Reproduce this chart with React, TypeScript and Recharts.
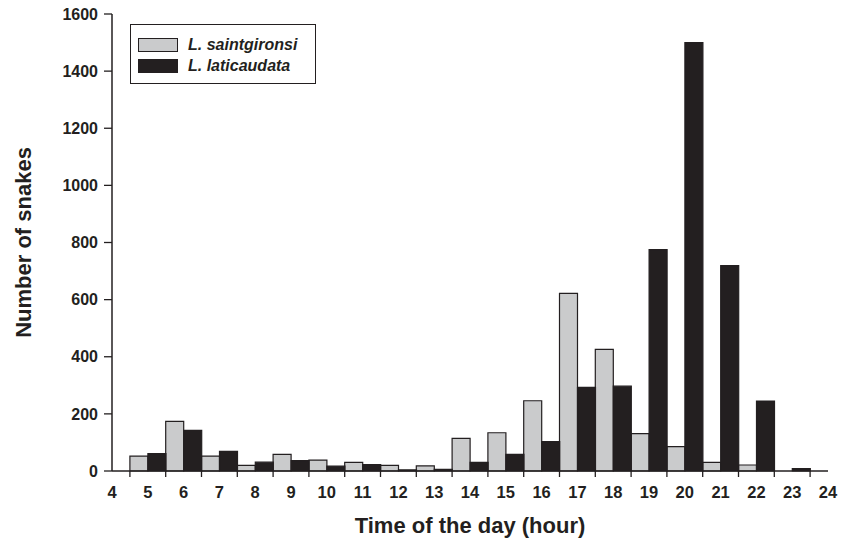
import React from 'react';
import { BarChart, Bar, XAxis, YAxis } from 'recharts';

// Hours of the day (categories) and counts per species
const hours = [5, 6, 7, 8, 9, 10, 11, 12, 13, 14, 15, 16, 17, 18, 19, 20, 21, 22, 23];
const saintgironsi = [52, 174, 52, 20, 58, 38, 30, 20, 18, 114, 134, 246, 622, 426, 131, 85, 30, 21, 0];
const laticaudata = [61, 142, 69, 31, 36, 17, 22, 4, 6, 30, 58, 103, 293, 297, 775, 1500, 719, 245, 8];
const yTicks = [0, 200, 400, 600, 800, 1000, 1200, 1400, 1600];

const data = hours.map((h, i) => ({
  hour: h,
  saintgironsi: saintgironsi[i],
  laticaudata: laticaudata[i],
}));

const FONT = 'Arial, "Liberation Sans", Helvetica, sans-serif';
const INK = '#231f20';
const GREY = '#cacbcc';
const HALF_BAND = 17.9;

// x tick: label at the hour, tick marks on the hour boundaries
// eslint-disable-next-line @typescript-eslint/no-explicit-any
const HourTick = (props: any) => {
  const { x, y, payload, index } = props;
  const last = index === hours.length - 1;
  const label = (v: number, px: number) => (
    <text x={px} y={y + 27} textAnchor="middle" fontFamily={FONT} fontWeight="bold" fontSize={16.5} fill={INK}>
      {v}
    </text>
  );
  return (
    <g>
      <line x1={x - HALF_BAND} y1={y} x2={x - HALF_BAND} y2={y + 6} stroke={INK} strokeWidth={1.3} />
      {last && <line x1={x + HALF_BAND} y1={y} x2={x + HALF_BAND} y2={y + 6} stroke={INK} strokeWidth={1.3} />}
      {index === 0 && label(payload.value - 1, x - 2 * HALF_BAND)}
      {label(payload.value, x)}
      {last && label(payload.value + 1, x + 2 * HALF_BAND)}
    </g>
  );
};

const series = [
  { name: 'L. saintgironsi', color: GREY },
  { name: 'L. laticaudata', color: INK },
];

const LegendBox = () => (
  <div
    style={{
      position: 'absolute',
      left: 130,
      top: 24,
      border: `1.3px solid ${INK}`,
      width: 186,
      height: 60,
      boxSizing: 'border-box',
      padding: '9px 0 0 7px',
      fontFamily: FONT,
      fontWeight: 'bold',
      fontStyle: 'italic',
      fontSize: 16,
      color: INK,
      background: '#fff',
    }}
  >
    {series.map((s) => (
      <div key={s.name} style={{ display: 'flex', alignItems: 'center', height: 21 }}>
        <span
          style={{
            display: 'inline-block',
            width: 38,
            height: 12,
            background: s.color,
            border: `1px solid ${INK}`,
            marginRight: 10,
          }}
        />
        {s.name}
      </div>
    ))}
  </div>
);

export default function App() {
  return (
    <div style={{ position: 'absolute', left: 0, top: 0, width: 841, height: 542, background: '#fff' }}>
      <BarChart
        width={841}
        height={542}
        data={data}
        margin={{ top: 14, right: 13, left: 0, bottom: 41 }}
        barCategoryGap={0}
        barGap={0}
      >
        <XAxis
          dataKey="hour"
          type="category"
          height={30}
          padding={{ left: HALF_BAND, right: HALF_BAND }}
          axisLine={{ stroke: INK, strokeWidth: 1.5 }}
          tickLine={false}
          tickSize={0}
          tickMargin={0}
          interval={0}
          tick={<HourTick />}
          label={{
            // eslint-disable-next-line @typescript-eslint/no-explicit-any
            content: (p: any) => (
              <text
                x={p.viewBox.x + p.viewBox.width / 2}
                y={533}
                textAnchor="middle"
                fontFamily={FONT}
                fontWeight="bold"
                fontSize={22}
                fill={INK}
              >
                Time of the day (hour)
              </text>
            ),
          }}
        />
        <YAxis
          width={112}
          domain={[0, 1600]}
          ticks={yTicks}
          interval={0}
          axisLine={{ stroke: INK, strokeWidth: 1.5 }}
          tickLine={{ stroke: INK, strokeWidth: 1.3 }}
          tickSize={8}
          tickMargin={6}
          tick={{ fontFamily: FONT, fontWeight: 'bold', fontSize: 16, fill: INK }}
          label={{
            // eslint-disable-next-line @typescript-eslint/no-explicit-any
            content: (p: any) => {
              const cx = 23;
              const cy = p.viewBox.y + p.viewBox.height / 2;
              return (
                <text
                  x={cx}
                  y={cy}
                  transform={`rotate(-90 ${cx} ${cy})`}
                  textAnchor="middle"
                  dominantBaseline="central"
                  fontFamily={FONT}
                  fontWeight="bold"
                  fontSize={22}
                  fill={INK}
                >
                  Number of snakes
                </text>
              );
            },
          }}
        />
        <Bar dataKey="saintgironsi" name="L. saintgironsi" fill={GREY} stroke={INK} strokeWidth={1.2} isAnimationActive={false} />
        <Bar dataKey="laticaudata" name="L. laticaudata" fill={INK} stroke={INK} strokeWidth={1.2} isAnimationActive={false} />
      </BarChart>
      <LegendBox />
    </div>
  );
}
